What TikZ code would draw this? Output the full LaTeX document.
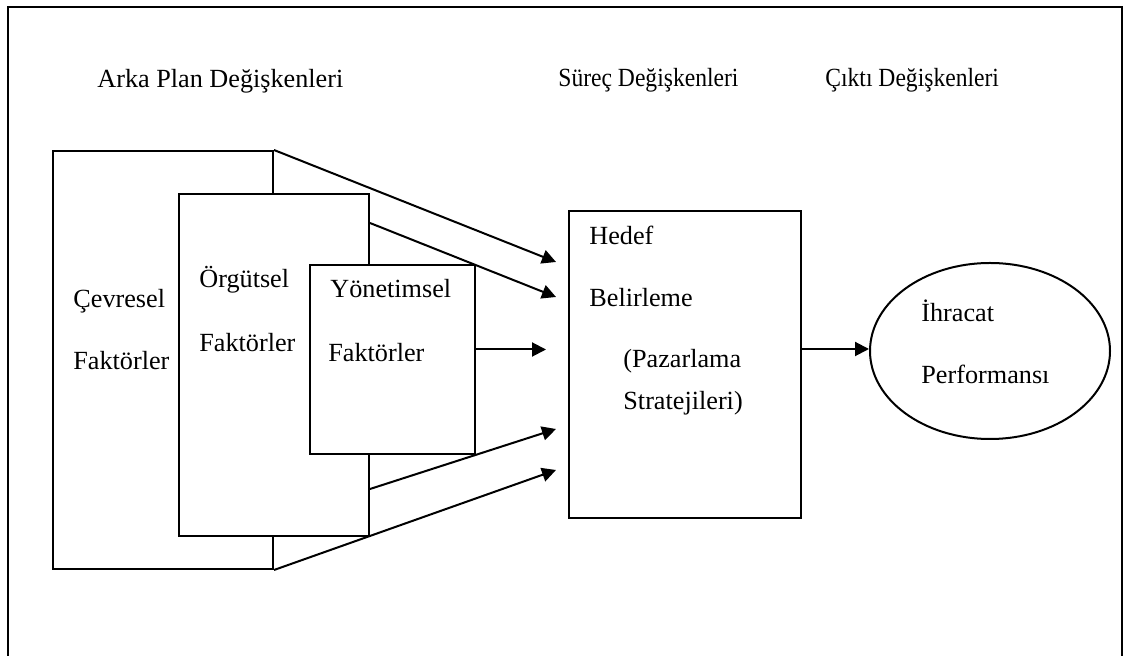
\documentclass[tikz,border=0pt]{standalone}
\usepackage{fontspec}
\usepackage{graphicx}
\setmainfont{Liberation Serif}
\usetikzlibrary{arrows.meta,shapes.geometric}

\newcommand{\narrowtext}[1]{\scalebox{0.9}[1]{#1}}

\tikzset{
  box/.style={draw, line width=1pt, fill=white, inner sep=0pt, anchor=north west},
  lbl/.style={anchor=base west, inner sep=0pt, font=\fontsize{13.1}{15}\selectfont},
  arr/.style={line width=1pt, -{Triangle[length=7pt,width=7pt]}}
}

\begin{document}
\begin{tikzpicture}[x=0.5pt,y=-0.5pt]
  \useasboundingbox (0,0) rectangle (1124,656);

  % frame, open at the bottom
  \draw[line width=1.4pt] (8,656) -- (8,7) -- (1122,7) -- (1122,656);

  % column headings
  \node[lbl] (h1) at (97,88) {Arka Plan Değişkenleri};
  \node[lbl] (h2) at (558,87) {\narrowtext{Süreç Değişkenleri}};
  \node[lbl] (h3) at (825,87) {\narrowtext{Çıktı Değişkenleri}};

  % stacked factor boxes
  \node[box, minimum width=110pt, minimum height=209pt] (C) at (52,150) {};
  \node[box, minimum width=95pt, minimum height=171pt] (O) at (178,193) {};
  \node[box, minimum width=82.5pt, minimum height=94.5pt] (Y) at (309,264) {};

  \node[lbl] (c1) at (73,308) {Çevresel};
  \node[lbl] (c2) at (73,370) {Faktörler};
  \node[lbl] (o1) at (199,288) {Örgütsel};
  \node[lbl] (o2) at (199,352) {Faktörler};
  \node[lbl] (y1) at (330,298) {Yönetimsel};
  \node[lbl] (y2) at (328,362) {Faktörler};

  % process box
  \node[box, minimum width=116pt, minimum height=153.5pt] (H) at (568,210) {};
  \node[lbl] (p1) at (589,245) {Hedef};
  \node[lbl] (p2) at (589,307) {Belirleme};
  \node[lbl] (p3) at (623,368) {(Pazarlama};
  \node[lbl] (p4) at (623,410) {Stratejileri)};

  % outcome
  \node[draw, line width=1pt, ellipse, minimum width=120pt, minimum height=88pt, inner sep=0pt] (E) at (990,351) {};
  \node[lbl] (e1) at (921,322) {İhracat};
  \node[lbl] (e2) at (921,384) {Performansı};

  % arrow tips in front of the process box
  \coordinate (t1) at (556,262);
  \coordinate (t2) at (556,297);
  \coordinate (t3) at (546,348);
  \coordinate (t4) at (556,429);
  \coordinate (t5) at (556,470);

  \draw[arr] (C.north east) -- (t1);
  \draw[arr] ([yshift=-15pt]O.north east) -- (t2);
  \coordinate (ys) at ([yshift=5pt]Y.east);
  \draw[arr] (ys) -- (ys -| t3);
  \draw[arr] ([yshift=24pt]O.south east) -- (t4);
  \draw[arr] (C.south east) -- (t5);

  \coordinate (hs) at ([yshift=7.75pt]H.east);
  \draw[arr] (hs) -- (hs -| E.west);
\end{tikzpicture}
\end{document}
